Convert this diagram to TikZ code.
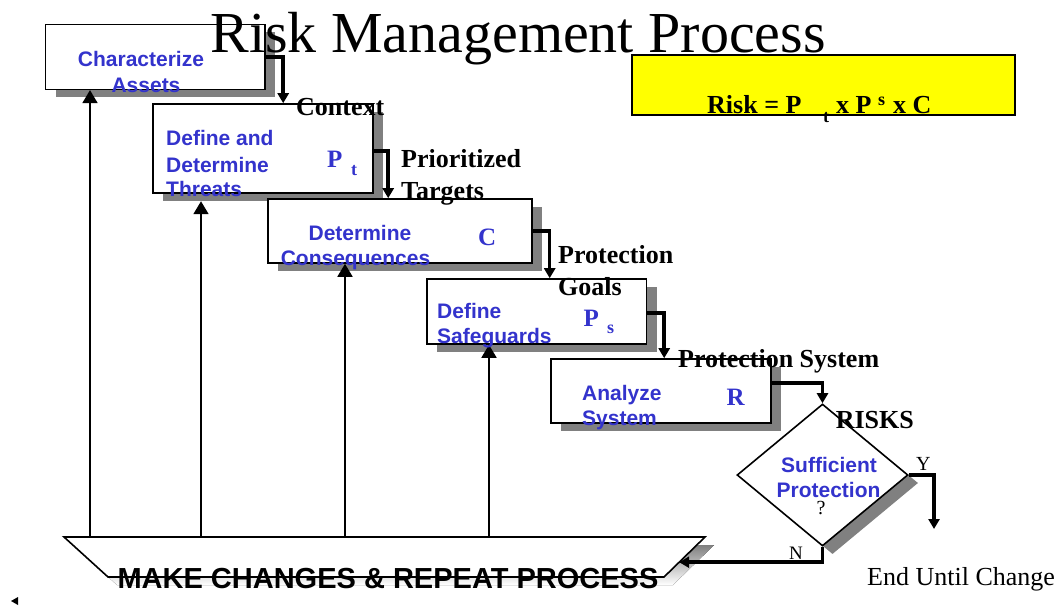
\documentclass[tikz,border=0pt]{standalone}
\usepackage{fontspec}
\setmainfont{Liberation Serif}
\setsansfont{Liberation Sans}
\usetikzlibrary{arrows.meta,shapes.geometric,calc}
\definecolor{tblue}{RGB}{51,51,204}
\definecolor{shade}{RGB}{128,128,128}
\definecolor{ybox}{RGB}{255,255,0}
\begin{document}
\begin{tikzpicture}[x=1pt,y=-1pt,
  box/.style={draw=black,line width=1.6pt,fill=white,rectangle,inner sep=0pt},
  shbox/.style={fill=shade,rectangle,inner sep=0pt},
  conn/.style={line width=3.5pt,-{Triangle[length=10pt,width=11pt]}},
  upar/.style={line width=1.8pt,-{Triangle[length=13pt,width=15pt]}},
  lbl/.style={font=\sffamily\bfseries\fontsize{21}{25}\selectfont,text=tblue,inner sep=0pt},
  sym/.style={font=\rmfamily\bfseries\fontsize{25}{28}\selectfont,text=tblue,inner sep=0pt},
  symsub/.style={font=\rmfamily\bfseries\fontsize{18}{20}\selectfont,text=tblue,inner sep=0pt},
  blk/.style={font=\rmfamily\bfseries\fontsize{26}{30}\selectfont,text=black,inner sep=0pt},
  blksub/.style={font=\rmfamily\bfseries\fontsize{18}{20}\selectfont,text=black,inner sep=0pt},
  plain/.style={font=\rmfamily\fontsize{20}{24}\selectfont,text=black,inner sep=0pt}
]
\useasboundingbox (0,0) rectangle (1062,608);

% shadows
\node[shbox,minimum width=219.5pt,minimum height=65pt] (b1s) at (165.25,64.8) {};
\node[shbox,minimum width=220pt,minimum height=89pt] (b2s) at (273,156.5) {};
\node[shbox,minimum width=264pt,minimum height=64pt] (b3s) at (410,239) {};
\node[shbox,minimum width=219.5pt,minimum height=65pt] (b4s) at (546.75,319.5) {};
\node[shbox,minimum width=220pt,minimum height=64pt] (b5s) at (671,399) {};
\node[shape=diamond,fill=shade,inner sep=0pt,minimum width=171pt,minimum height=142pt] (ds) at (832.5,483) {};

% boxes
\node[box,minimum width=219.5pt,minimum height=65pt] (b1) at (155.25,56.8) {};
\node[box,minimum width=220pt,minimum height=89pt] (b2) at (263,148.5) {};
\node[box,minimum width=264pt,minimum height=64pt] (b3) at (400,231) {};
\node[box,minimum width=219.5pt,minimum height=65pt] (b4) at (536.75,311.5) {};
\node[box,minimum width=220pt,minimum height=64pt] (b5) at (661,391) {};
\node[shape=diamond,draw=black,line width=1.6pt,fill=white,inner sep=0pt,minimum width=171pt,minimum height=142pt] (d) at (822.5,475) {};

% trapezoid
\coordinate (tTL) at (64,537);
\coordinate (tTR) at (705,537);
\coordinate (tBR) at (664,577);
\coordinate (tBL) at (108,577);
\fill[shade] ([shift={(9,8)}]tTL) -- ([shift={(9,8)}]tTR) -- ([shift={(9,8)}]tBR) -- ([shift={(9,8)}]tBL) -- cycle;
\draw[line width=1.6pt,fill=white] (tTL) -- (tTR) -- (tBR) -- (tBL) -- cycle;
\coordinate (tr) at ($(tTR)!0.63!(tBR)$);

% yellow formula box
\node[draw=black,line width=1.6pt,fill=ybox,rectangle,inner sep=0pt,minimum width=383pt,minimum height=60pt] (yb) at (823.5,85) {};

% connectors between steps
\draw[conn] (b1.east) -| ([xshift=131pt]b2.north west);
\draw[conn] ($(b2.east)+(0,2.5)$) -| ([xshift=121pt]b3.north west);
\draw[conn] (b3.east) -| ([xshift=123.5pt]b4.north west);
\draw[conn] ($(b4.east)+(0,1.5)$) -| ([xshift=114pt]b5.north west);
\draw[conn] ($(b5.east)+(0,-8)$) -| (d.north);
\coordinate (yend) at (934,529);
\draw[conn] (d.east) -| (yend);
\draw[conn] (d.south) |- (tr);

% feedback arrows
\coordinate (f1) at (90,537);
\coordinate (f2) at (201,537);
\coordinate (f3) at (345,537);
\coordinate (f4) at (489,537);
\draw[upar] (f1) -- (f1 |- b1.south);
\draw[upar] (f2) -- (f2 |- b2s.south);
\draw[upar] (f3) -- (f3 |- b3.south);
\draw[upar] (f4) -- (f4 |- b4.south);

% small triangle bottom left
\fill[black] (11,601) -- (18,597) -- (18,605) -- cycle;

% title
\node[font=\rmfamily\fontsize{58}{62}\selectfont,inner sep=0pt,anchor=base] (title) at (518,52) {Risk Management Process};

% box texts
\node[lbl,anchor=base] (t1a) at (141,66.7) {Characterize};
\node[lbl,anchor=base] (t1b) at (146,92) {Assets};
\node[lbl,anchor=base west] (t2a) at (166,145) {Define and};
\node[lbl,anchor=base west] (t2b) at (166,172) {Determine};
\node[lbl,anchor=base west] (t2c) at (166,196) {Threats};
\node[sym,anchor=base west] (s2) at (327,167) {P};
\node[symsub,anchor=base west] (s2t) at (351,175) {t};
\node[lbl,anchor=base] (t3a) at (360,240) {Determine};
\node[lbl,anchor=base] (t3b) at (355.5,265) {Consequences};
\node[sym,anchor=base west] (s3) at (478,245) {C};
\node[lbl,anchor=base west] (t4a) at (437,318) {Define};
\node[lbl,anchor=base west] (t4b) at (437,343) {Safeguards};
\node[sym,anchor=base west] (s4) at (583.5,326) {P};
\node[symsub,anchor=base west] (s4s) at (607,333) {s};
\node[lbl,anchor=base west] (t5a) at (582,400) {Analyze};
\node[lbl,anchor=base west] (t5b) at (582,425) {System};
\node[sym,anchor=base west] (s5) at (726.5,405) {R};
\node[lbl,anchor=base] (tda) at (829,472) {Sufficient};
\node[lbl,anchor=base] (tdb) at (828.5,497.7) {Protection};
\node[plain,anchor=base] (tdq) at (821,514) {?};

% flow labels
\node[blk,anchor=base west] (l1) at (296,115) {Context};
\node[blk,anchor=base west] (l2a) at (401,167) {Prioritized};
\node[blk,anchor=base west] (l2b) at (401,199) {Targets};
\node[blk,anchor=base west] (l3a) at (558,263) {Protection};
\node[blk,anchor=base west] (l3b) at (558,295) {Goals};
\node[blk,anchor=base west] (l4) at (678,367) {Protection System};
\node[blk,anchor=base west] (l5) at (835.6,428) {RISKS};
\node[plain,anchor=base west] (ly) at (916,470) {Y};
\node[plain,font=\rmfamily\fontsize{19}{22}\selectfont,anchor=base west] (ln) at (789,559) {N};

% bottom texts
\node[font=\sffamily\bfseries\fontsize{29}{32}\selectfont,inner sep=0pt,anchor=base] (mk) at (388,588) {MAKE CHANGES \& REPEAT PROCESS};
\node[font=\rmfamily\fontsize{26}{30}\selectfont,inner sep=0pt,anchor=base west] (end) at (867,585.7) {End Until Change};

% formula
\node[blk,anchor=base west] (r1) at (707,113) {Risk = P};
\node[blksub,anchor=base west] (r2) at (823,122) {t};
\node[blk,anchor=base west] (r3) at (836,113) {x P};
\node[blksub,anchor=base west] (r4) at (878,105) {s};
\node[blk,anchor=base west] (r5) at (893,113) {x C};
\end{tikzpicture}
\end{document}
